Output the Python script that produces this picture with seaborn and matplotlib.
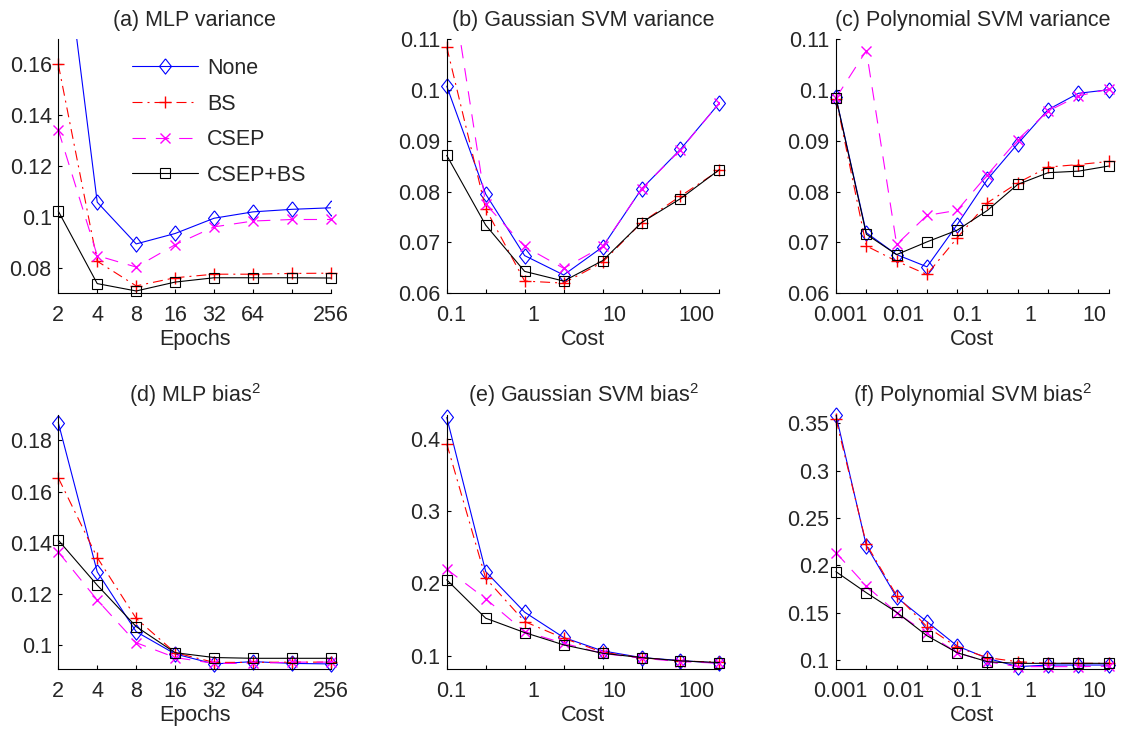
import matplotlib
matplotlib.use("Agg")
import matplotlib.pyplot as plt
from matplotlib.transforms import ScaledTranslation
import seaborn as sns

methods = ["None", "BS", "CSEP", "CSEP+BS"]

# x grids
epochs = [2, 4, 8, 16, 32, 64, 128, 256]
epoch_labels = ["2", "4", "8", "16", "32", "64", "", "256"]
cost_gauss = [0.088, 0.264, 0.792, 2.38, 7.13, 21.4, 64.2, 192.5]
cost_poly = [0.000865, 0.0026, 0.0078, 0.0234, 0.0701, 0.21, 0.63, 1.89, 5.68, 17.0]
gauss_decades = [0.1, 1, 10, 100]
poly_decades = [0.001, 0.01, 0.1, 1, 10]

# (a) MLP variance
mlp_var_none = [0.228, 0.1058, 0.0894, 0.0935, 0.0995, 0.102, 0.103, 0.1036]
mlp_var_bs = [0.16, 0.0826, 0.0729, 0.0761, 0.0775, 0.0775, 0.0778, 0.0779]
mlp_var_csep = [0.1342, 0.0848, 0.0803, 0.0891, 0.0961, 0.0984, 0.099, 0.099]
mlp_var_csepbs = [0.1023, 0.0738, 0.0709, 0.0744, 0.0761, 0.0761, 0.0761, 0.076]

# (b) Gaussian SVM variance
gauss_var_none = [0.1007, 0.0795, 0.0674, 0.0636, 0.0691, 0.0805, 0.0883, 0.0974]
gauss_var_bs = [0.1084, 0.0766, 0.0624, 0.062, 0.0661, 0.0739, 0.0791, 0.0842]
gauss_var_csep = [0.127, 0.0775, 0.0692, 0.0649, 0.0692, 0.0805, 0.0882, 0.0974]
gauss_var_csepbs = [0.0871, 0.0734, 0.0643, 0.0624, 0.0664, 0.0739, 0.0786, 0.0843]

# (c) Polynomial SVM variance
poly_var_none = [0.0985, 0.0719, 0.0676, 0.0652, 0.0735, 0.0824, 0.0894, 0.0961, 0.0993, 0.1]
poly_var_bs = [0.0982, 0.0693, 0.0663, 0.0637, 0.0709, 0.0778, 0.0817, 0.0848, 0.0853, 0.0859]
poly_var_csep = [0.0984, 0.1077, 0.0696, 0.0753, 0.0763, 0.0833, 0.0902, 0.0958, 0.0988, 0.1001]
poly_var_csepbs = [0.0984, 0.0716, 0.0676, 0.0701, 0.0724, 0.0763, 0.0814, 0.0837, 0.084, 0.085]

# (d) MLP bias^2
mlp_bias_none = [0.187, 0.1286, 0.1052, 0.0965, 0.0926, 0.0935, 0.0928, 0.0926]
mlp_bias_bs = [0.1654, 0.1342, 0.1104, 0.097, 0.0932, 0.0932, 0.0933, 0.0933]
mlp_bias_csep = [0.1364, 0.1176, 0.1009, 0.0951, 0.0928, 0.0928, 0.0933, 0.0933]
mlp_bias_csepbs = [0.141, 0.1234, 0.1072, 0.097, 0.0951, 0.0948, 0.0948, 0.0948]

# (e) Gaussian SVM bias^2
gauss_bias_none = [0.4295, 0.2162, 0.16, 0.125, 0.1065, 0.0972, 0.0931, 0.0894]
gauss_bias_bs = [0.393, 0.207, 0.147, 0.124, 0.1046, 0.097, 0.0926, 0.0908]
gauss_bias_csep = [0.2195, 0.1785, 0.1332, 0.117, 0.103, 0.0963, 0.0917, 0.0894]
gauss_bias_csepbs = [0.2048, 0.1517, 0.1318, 0.1148, 0.1032, 0.0972, 0.0926, 0.0903]

# (f) Polynomial SVM bias^2
poly_bias_none = [0.3588, 0.2208, 0.1662, 0.1405, 0.1148, 0.1018, 0.093, 0.0947, 0.0947, 0.0947]
poly_bias_bs = [0.3542, 0.2225, 0.168, 0.1352, 0.1134, 0.1025, 0.0982, 0.0965, 0.0965, 0.0965]
poly_bias_csep = [0.2134, 0.1782, 0.15, 0.1282, 0.1077, 0.0982, 0.093, 0.093, 0.093, 0.0935]
poly_bias_csepbs = [0.1933, 0.1711, 0.1504, 0.1257, 0.1077, 0.0982, 0.0965, 0.0965, 0.0965, 0.0965]

sns.set_theme(style="ticks")
plt.rcParams["font.family"] = ["Liberation Sans", "DejaVu Sans"]
plt.rcParams["mathtext.default"] = "regular"
FS = 15.5

colors = {"None": "#0000ff", "BS": "#ff0000", "CSEP": "#ff00ff", "CSEP+BS": "#000000"}
diamond = [(0, 1), (0.78, 0), (0, -1), (-0.78, 0), (0, 1)]
markers = {"None": diamond, "BS": "+", "CSEP": "x", "CSEP+BS": "s"}
msizes = {"None": 11, "BS": 9, "CSEP": 7.5, "CSEP+BS": 7.5}
mews = {"None": 0.8, "BS": 1.0, "CSEP": 1.0, "CSEP+BS": 0.8}
styles = {"None": "-", "BS": (0, (9, 4.5, 1.8, 4.5)), "CSEP": (0, (12, 9)), "CSEP+BS": "-"}

panels = [
    ("(a) MLP variance", "Epochs", epochs, [mlp_var_none, mlp_var_bs, mlp_var_csep, mlp_var_csepbs],
     (0.07, 0.17), [0.08, 0.1, 0.12, 0.14, 0.16]),
    ("(b) Gaussian SVM variance", "Cost", cost_gauss,
     [gauss_var_none, gauss_var_bs, gauss_var_csep, gauss_var_csepbs],
     (0.06, 0.11), [0.06, 0.07, 0.08, 0.09, 0.1, 0.11]),
    ("(c) Polynomial SVM variance", "Cost", cost_poly,
     [poly_var_none, poly_var_bs, poly_var_csep, poly_var_csepbs],
     (0.06, 0.11), [0.06, 0.07, 0.08, 0.09, 0.1, 0.11]),
    ("(d) MLP bias$^2$", "Epochs", epochs, [mlp_bias_none, mlp_bias_bs, mlp_bias_csep, mlp_bias_csepbs],
     (0.0905, 0.19), [0.1, 0.12, 0.14, 0.16, 0.18]),
    ("(e) Gaussian SVM bias$^2$", "Cost", cost_gauss,
     [gauss_bias_none, gauss_bias_bs, gauss_bias_csep, gauss_bias_csepbs],
     (0.081, 0.433), [0.1, 0.2, 0.3, 0.4]),
    ("(f) Polynomial SVM bias$^2$", "Cost", cost_poly,
     [poly_bias_none, poly_bias_bs, poly_bias_csep, poly_bias_csepbs],
     (0.0902, 0.359), [0.1, 0.15, 0.2, 0.25, 0.3, 0.35]),
]

fig = plt.figure(figsize=(11.25, 7.29), dpi=100)
lefts = [0.0518, 0.3971, 0.7431]
bottoms = [0.5977, 0.0819]
label_shift = ScaledTranslation(0.065, 0, fig.dpi_scale_trans)

for i, (title, xlab, xs, series, ylim, yticks) in enumerate(panels):
    ax = fig.add_axes([lefts[i % 3], bottoms[i // 3], 0.2424, 0.349])
    for name, ys in zip(methods, series):
        sns.lineplot(x=xs, y=ys, ax=ax, color=colors[name], marker=markers[name],
                     ms=msizes[name], mec=colors[name], mfc="none", mew=mews[name],
                     lw=0.8, ls=styles[name], errorbar=None, legend=False)
        line = ax.lines[-1]
        line.set_markeredgecolor(colors[name])
        # markers are not clipped unless the line leaves the axes
        if min(ys) >= ylim[0] and max(ys) <= ylim[1]:
            line.set_clip_on(False)

    ax.set_xlim(xs[0], xs[-1])
    ax.set_ylim(*ylim)
    if xlab == "Epochs":
        ax.set_xscale("log", base=2)
        ax.set_xticks(epochs, labels=epoch_labels)
        ax.set_xticks([], minor=True)
    else:
        ax.set_xscale("log")
        ax.set_xticks(xs, labels=[""] * len(xs))
        decs = gauss_decades if xs is cost_gauss else poly_decades
        ax.set_xticks(decs, labels=[f"{d:g}" for d in decs], minor=True)
        ax.tick_params(axis="x", which="minor", length=0)
    ax.set_yticks(yticks, labels=[f"{v:g}" for v in yticks])

    for lbl in ax.get_xticklabels(which="both"):
        lbl.set_transform(lbl.get_transform() + label_shift)

    ax.tick_params(axis="both", which="major", direction="in", length=3, width=0.8,
                   labelsize=FS, color="black")
    ax.tick_params(axis="x", which="both", pad=8.5, labelsize=FS)
    ax.tick_params(axis="y", pad=4.7)
    sns.despine(ax=ax)
    for sp in ["left", "bottom"]:
        ax.spines[sp].set_color("black")
        ax.spines[sp].set_linewidth(0.8)

    ax.set_title(title, fontsize=FS, pad=9)
    ax.set_xlabel(xlab, fontsize=FS, labelpad=2)
    ax.set_ylabel("")

    if i == 0:
        ax.legend(ax.lines[:4], methods, loc="upper left", bbox_to_anchor=(0.269, 0.925),
                  frameon=False, fontsize=FS, handlelength=3.1, handletextpad=0.4,
                  labelspacing=0.68, borderpad=0, borderaxespad=0, numpoints=1)

fig.savefig("out.png", dpi=100)
